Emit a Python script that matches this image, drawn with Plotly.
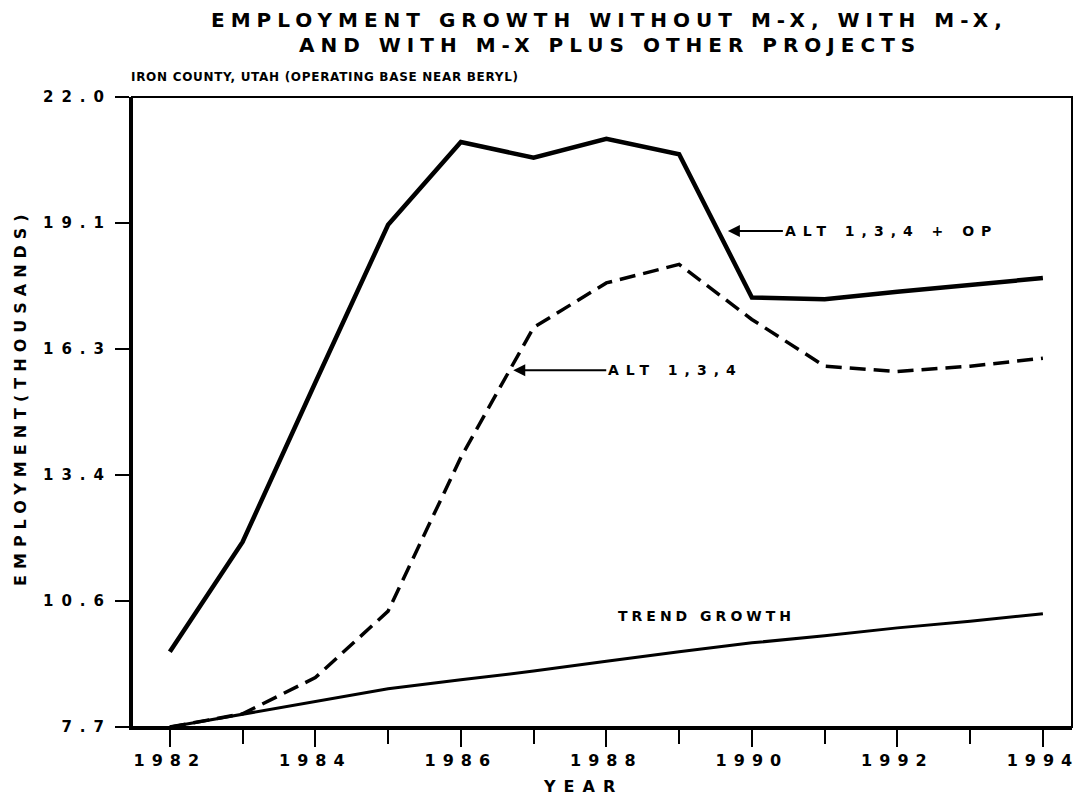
import plotly.graph_objs as go

years = [1982, 1983, 1984, 1985, 1986, 1987, 1988, 1989, 1990, 1991, 1992, 1993, 1994]
alt_op = [9.41, 11.9, 15.52, 19.1, 20.98, 20.62, 21.05, 20.7, 17.45, 17.41, 17.58, 17.74, 17.89]
alt_134 = [7.7, 8.0, 8.82, 10.33, 13.82, 16.77, 17.78, 18.2, 16.95, 15.89, 15.77, 15.89, 16.07]
trend = [7.7, 7.99, 8.29, 8.57, 8.77, 8.97, 9.19, 9.41, 9.61, 9.77, 9.95, 10.1, 10.27]

x_ticks = [1982, 1984, 1986, 1988, 1990, 1992, 1994]
y_ticks = [7.7, 10.56, 13.42, 16.28, 19.14, 22.0]
y_labels = ['7.7', '10.6', '13.4', '16.3', '19.1', '22.0']

FONT = 'DejaVu Sans'


def spaced(s, px):
    return "<span style='letter-spacing:%spx'>%s</span>" % (px, s)


def bold(size):
    return dict(size=size, family=FONT, weight='bold', color='black')


fig = go.Figure()
fig.add_trace(go.Scatter(x=years, y=alt_op, mode='lines', line=dict(color='black', width=4.5)))
fig.add_trace(go.Scatter(x=years, y=alt_134, mode='lines', line=dict(color='black', width=3.5, dash='16px,8px')))
fig.add_trace(go.Scatter(x=years, y=trend, mode='lines', line=dict(color='black', width=3)))

# page body has an 8px margin at top/left, so the figure starts at (8, 8)
fig.update_layout(
    width=1074, height=794,
    margin=dict(l=124, r=10, t=89, b=75),
    paper_bgcolor='white', plot_bgcolor='white',
    showlegend=False,
    font=bold(14),
)

fig.update_xaxes(
    range=[1981.48, 1994.4], showgrid=False, zeroline=False, automargin=False,
    showline=True, linecolor='black', linewidth=3,
    tickmode='array', tickvals=x_ticks, ticktext=[spaced(str(v), 7) for v in x_ticks],
    ticklabeloverflow='allow',
    ticks='outside', ticklen=17, tickwidth=2, tickcolor='black',
    tickfont=bold(16),
    minor=dict(dtick=1, tick0=1982, ticks='outside', ticklen=14, tickwidth=2, tickcolor='black', showgrid=False),
)
fig.update_yaxes(
    range=[7.7, 22.0], showgrid=False, zeroline=False, automargin=False,
    showline=True, linecolor='black', linewidth=3,
    tickmode='array', tickvals=y_ticks, ticktext=[spaced(t, 8) for t in y_labels],
    ticklabeloverflow='allow',
    ticks='outside', ticklen=14, tickwidth=2, tickcolor='black',
    tickfont=bold(15),
)

# frame on top and right
fig.add_shape(type='rect', xref='paper', yref='paper', x0=0, y0=0, x1=1, y1=1,
              line=dict(color='black', width=2))

# titles
fig.add_annotation(text=spaced('EMPLOYMENT GROWTH WITHOUT M-X, WITH M-X,', 6), xref='paper', yref='paper',
                   x=0.508, y=1, yanchor='middle', yshift=77, showarrow=False, font=bold(20))
fig.add_annotation(text=spaced('AND WITH M-X PLUS OTHER PROJECTS', 6), xref='paper', yref='paper',
                   x=0.508, y=1, yanchor='middle', yshift=52, showarrow=False, font=bold(20))
fig.add_annotation(text=spaced('IRON COUNTY, UTAH (OPERATING BASE NEAR BERYL)', 0.7), xref='paper', yref='paper',
                   x=0, y=1, xanchor='left', yanchor='middle', xshift=-3, yshift=20, showarrow=False,
                   font=bold(12))
fig.add_annotation(text=spaced('YEAR', 8), xref='paper', yref='paper', x=0.48, y=0,
                   xanchor='center', yanchor='middle', yshift=-59, showarrow=False, font=bold(16))
fig.add_annotation(text=spaced('EMPLOYMENT(THOUSANDS)', 6), xref='paper', yref='paper', x=-0.118, y=0.524,
                   xanchor='center', yanchor='middle', textangle=-90, showarrow=False, font=bold(16))

# line labels
fig.add_annotation(text=spaced('ALT 1,3,4 + OP', 7), x=1989.67, y=18.96, ax=55, ay=0,
                   xanchor='left', showarrow=True, arrowhead=2, arrowsize=1.2, arrowwidth=2,
                   arrowcolor='black', font=bold(14))
fig.add_annotation(text=spaced('ALT 1,3,4', 7), x=1986.72, y=15.8, ax=93, ay=0,
                   xanchor='left', showarrow=True, arrowhead=2, arrowsize=1.2, arrowwidth=2,
                   arrowcolor='black', font=bold(14))
fig.add_annotation(text=spaced('TREND GROWTH', 4), x=1989.38, y=10.22, showarrow=False,
                   xanchor='center', yanchor='middle', font=bold(14))

fig.write_html("out.html")
